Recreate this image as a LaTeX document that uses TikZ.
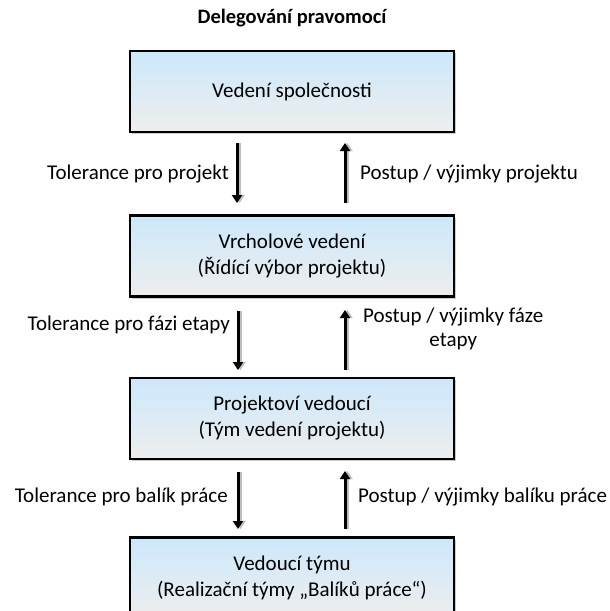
\documentclass[tikz,border=0pt]{standalone}
\usepackage{fontspec}
\setmainfont{Carlito}
\usetikzlibrary{arrows.meta,shadows}

\definecolor{boxtop}{RGB}{204,232,251}
\definecolor{boxbottom}{RGB}{238,238,238}
\definecolor{shadowgray}{RGB}{190,190,190}

\tikzset{
  level/.style={draw=black, line width=2.8pt, top color=boxtop, bottom color=boxbottom,
    minimum width=324pt, minimum height=81pt, inner sep=0pt, align=center,
    font=\fontsize{21}{26}\selectfont,
    drop shadow={shadow xshift=2pt, shadow yshift=-2pt, opacity=0.2, fill=black}},
  flow/.style={line width=3pt, -{Triangle[width=10pt,length=8pt]},
    preaction={draw=shadowgray, line width=3pt, transform canvas={xshift=2.5pt}, -{Triangle[width=10pt,length=8pt]}}},
  lbl/.style={font=\fontsize{21}{24}\selectfont, inner sep=0pt, align=center},
  heading/.style={font=\fontsize{20.5}{24}\selectfont\bfseries, inner sep=0pt}
}

\begin{document}
\begin{tikzpicture}[x=1pt, y=1pt]
  \useasboundingbox (0,0) rectangle (610,-611);

  % title
  \node[heading] (title) at (292,-18) {Delegování pravomocí};

  % management levels
  \node[level] (l1) at (292,-91.5)  {Vedení společnosti};
  \node[level] (l2) at (292,-256)   {Vrcholové vedení\\(Řídící výbor projektu)};
  \node[level] (l3) at (292,-418.5) {Projektoví vedoucí\\(Tým vedení projektu)};
  \node[level] (l4) at (292,-578)   {Vedoucí týmu\\(Realizační týmy „Balíků práce“)};

  % arrow end points
  \coordinate (d1a) at (237,-143); \coordinate (d1b) at (237,-203);
  \coordinate (u1a) at (345,-203); \coordinate (u1b) at (345,-143);
  \coordinate (d2a) at (238,-311); \coordinate (d2b) at (238,-370);
  \coordinate (u2a) at (345,-370); \coordinate (u2b) at (345,-310);
  \coordinate (d3a) at (238,-472); \coordinate (d3b) at (238,-529);
  \coordinate (u3a) at (345,-529); \coordinate (u3b) at (345,-471);

  \draw[flow] (d1a) -- (d1b);
  \draw[flow] (u1a) -- (u1b);
  \draw[flow] (d2a) -- (d2b);
  \draw[flow] (u2a) -- (u2b);
  \draw[flow] (d3a) -- (d3b);
  \draw[flow] (u3a) -- (u3b);

  % labels
  \node[lbl, anchor=east] (t1) at (229,-174) {Tolerance pro projekt};
  \node[lbl, anchor=west] (p1) at (360,-174) {Postup / výjimky projektu};
  \node[lbl, anchor=east] (t2) at (230,-325) {Tolerance pro fázi etapy};
  \node[lbl, anchor=west] (p2) at (363,-329) {Postup / výjimky fáze\\etapy};
  \node[lbl, anchor=east] (t3) at (228,-497) {Tolerance pro balík práce};
  \node[lbl, anchor=west] (p3) at (358,-497) {Postup / výjimky balíku práce};
\end{tikzpicture}
\end{document}
